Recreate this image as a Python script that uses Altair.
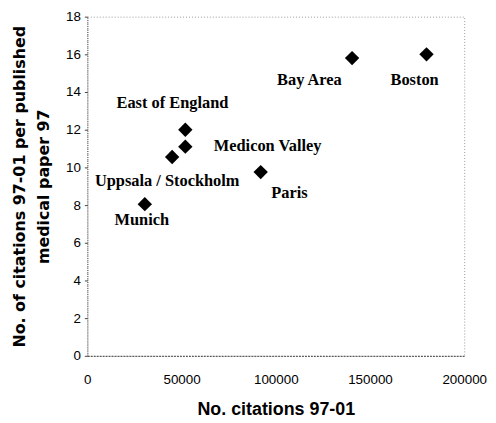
import altair as alt
import pandas as pd

regions = ["Boston", "Bay Area", "East of England", "Medicon Valley",
           "Uppsala / Stockholm", "Paris", "Munich"]
citations = [180000, 140500, 52000, 52000, 45000, 92000, 30500]
per_paper = [16.0, 15.8, 12.0, 11.1, 10.55, 9.75, 8.05]

x_ticks = [0, 50000, 100000, 150000, 200000]
y_ticks = [0, 2, 4, 6, 8, 10, 12, 14, 16, 18]

df = pd.DataFrame({"region": regions, "cit": citations, "ratio": per_paper})

# label placement (pixel offsets from each point)
label_offsets = {
    "Boston": (-12, 26),
    "Bay Area": (-43, 22),
    "East of England": (-13, -27),
    "Medicon Valley": (83, -1),
    "Uppsala / Stockholm": (-5, 24),
    "Paris": (29, 21),
    "Munich": (-3, 16),
}

x_enc = alt.X(
    "cit:Q",
    scale=alt.Scale(domain=[0, 200000], nice=False),
    axis=alt.Axis(
        values=x_ticks, format="d", title="No. citations 97-01",
        titleFont="Liberation Sans", titleFontSize=18, titleFontWeight="bold",
        titleColor="black", titleBaseline="alphabetic", titleY=59,
        labelFont="Liberation Sans", labelFontSize=13.5, labelColor="black",
        labelPadding=17, ticks=False, grid=False, labelOverlap=False,
        domainColor="#444", domainDash=[2, 1], labelFlush=False,
    ),
)
y_enc = alt.Y(
    "ratio:Q",
    scale=alt.Scale(domain=[0, 18], nice=False),
    axis=alt.Axis(
        values=y_ticks, title=["No. of citations 97-01 per published", "medical paper 97"],
        titleFont="DejaVu Sans", titleFontSize=16, titleFontWeight="bold",
        titleColor="black", titleAngle=-90, titleAlign="center",
        titleBaseline="alphabetic", titleX=-63, titleY=171, titleLineHeight=24,
        labelFont="Liberation Sans", labelFontSize=13.5, labelColor="black",
        labelPadding=4, tickSize=3, tickColor="#444", grid=False,
        labelOverlap=False,
        domainColor="#555", domainDash=[1, 1],
    ),
)

points = alt.Chart(df).mark_point(
    shape="diamond", filled=True, size=210, color="black", opacity=1
).encode(x=x_enc, y=y_enc)

layers = [points]
for name in regions:
    dx, dy = label_offsets[name]
    layers.append(
        alt.Chart(df).transform_filter(alt.datum.region == name).mark_text(
            font="Liberation Serif", fontSize=16.5, fontWeight="bold",
            color="black", align="center", baseline="middle", dx=dx, dy=dy,
        ).encode(x=x_enc, y=y_enc, text="region:N")
    )

chart = alt.layer(*layers).properties(
    width=380, height=342,
    autosize=alt.AutoSizeParams(type="none"),
    padding={"left": 80, "top": 7, "right": 24, "bottom": 66},
    background="white",
).configure_view(stroke="#999", strokeDash=[1, 2], strokeWidth=1)

chart.save("out.html", embed_options={"renderer": "svg", "actions": False})
